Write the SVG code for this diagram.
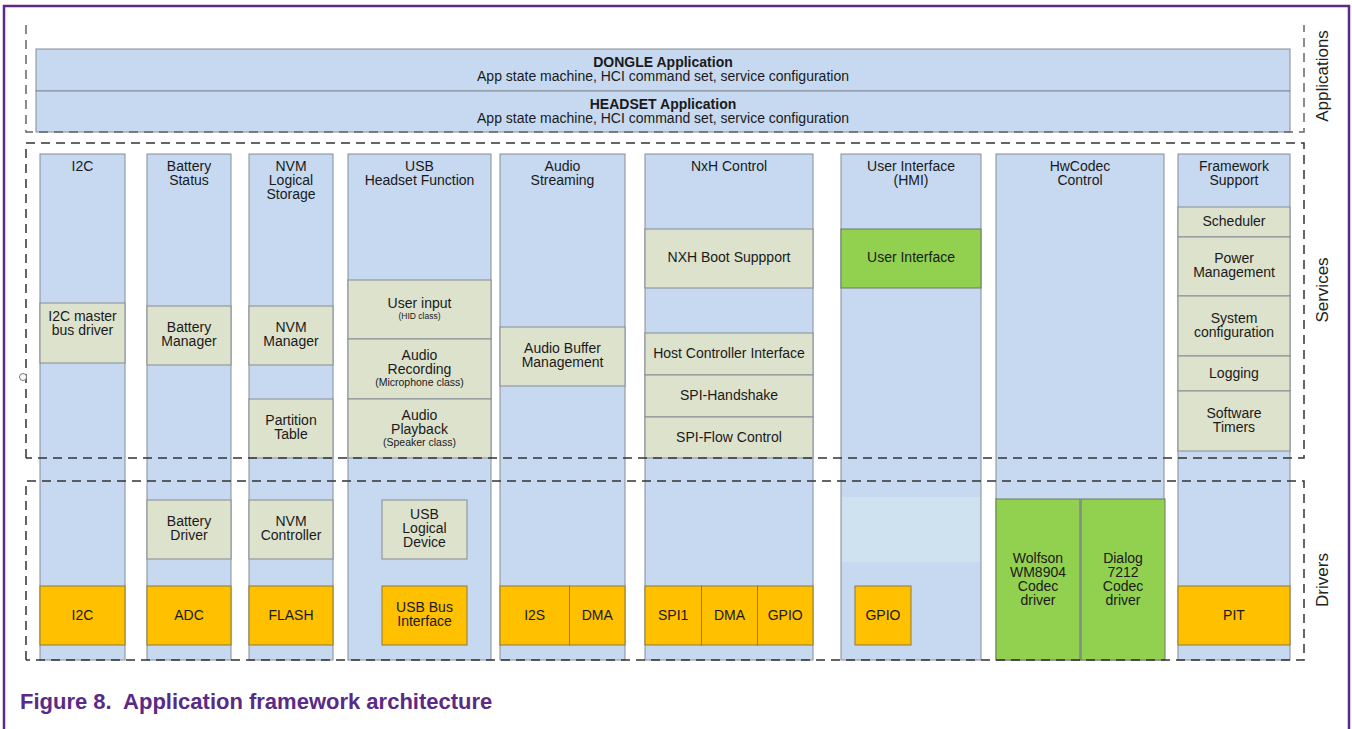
<svg xmlns="http://www.w3.org/2000/svg" width="1352" height="729" viewBox="0 0 1352 729">
<style>
text{font-family:"Liberation Sans",Arial,sans-serif;fill:#1a1a1a;font-size:14px;text-anchor:middle}
.col{fill:#c6d9f0;stroke:#858c94;stroke-width:1}
.sub{fill:#dde2cd;stroke:#858c94;stroke-width:1}
.hw{fill:#ffc000;stroke:#8a7a40;stroke-width:1}
.grn{fill:#92d050;stroke:#6b7b60;stroke-width:1}
.sm{font-size:10.5px}
.b{font-weight:bold}
.side{font-size:17px;fill:#222}
.dash{fill:none;stroke:#4a4a4a;stroke-width:1.5;stroke-dasharray:9 6}
.cap{font-size:22px;font-weight:bold;fill:#5a2a87;text-anchor:start}
</style>
<rect x="0" y="0" width="1352" height="729" fill="#fff"/>
<rect x="4" y="6" width="1345" height="740" fill="none" stroke="#5a2a87" stroke-width="2.5"/>

<g id="apps">
<g id="dongle"><rect class="col" x="36" y="49" width="1254" height="42"/>
<text class="b" x="663" y="67">DONGLE Application</text>
<text x="663" y="81">App state machine, HCI command set, service configuration</text></g>
<g id="headset"><rect class="col" x="36" y="91" width="1254" height="41"/>
<text class="b" x="663" y="109">HEADSET Application</text>
<text x="663" y="123">App state machine, HCI command set, service configuration</text></g>
</g>

<g id="col-i2c"><rect class="col" x="40" y="154" width="85" height="506"/>
<text x="82.5" y="171">I2C</text>
<rect class="sub" x="40" y="303" width="85" height="60"/>
<text x="82.5" y="321">I2C master</text><text x="82.5" y="335">bus driver</text>
<rect class="hw" x="40" y="586" width="85" height="59"/>
<text x="82.5" y="620">I2C</text></g>

<g id="col-battery"><rect class="col" x="147" y="154" width="84" height="506"/>
<text x="189" y="171">Battery</text><text x="189" y="185">Status</text>
<rect class="sub" x="147" y="306" width="84" height="59"/>
<text x="189" y="332">Battery</text><text x="189" y="346">Manager</text>
<rect class="sub" x="147" y="500" width="84" height="59"/>
<text x="189" y="526">Battery</text><text x="189" y="540">Driver</text>
<rect class="hw" x="147" y="586" width="84" height="59"/>
<text x="189" y="620">ADC</text></g>

<g id="col-nvm"><rect class="col" x="249" y="154" width="84" height="506"/>
<text x="291" y="171">NVM</text><text x="291" y="185">Logical</text><text x="291" y="199">Storage</text>
<rect class="sub" x="249" y="306" width="84" height="59"/>
<text x="291" y="332">NVM</text><text x="291" y="346">Manager</text>
<rect class="sub" x="249" y="399" width="84" height="59"/>
<text x="291" y="425">Partition</text><text x="291" y="439">Table</text>
<rect class="sub" x="249" y="500" width="84" height="59"/>
<text x="291" y="526">NVM</text><text x="291" y="540">Controller</text>
<rect class="hw" x="249" y="586" width="84" height="59"/>
<text x="291" y="620">FLASH</text></g>

<g id="col-usb"><rect class="col" x="348" y="154" width="143" height="506"/>
<text x="419.5" y="171">USB</text><text x="419.5" y="185">Headset Function</text>
<rect class="sub" x="348" y="280" width="143" height="59"/>
<text x="419.5" y="308">User input</text><text class="sm" x="419.5" y="319" style="font-size:8.5px">(HID class)</text>
<rect class="sub" x="348" y="339" width="143" height="60"/>
<text x="419.5" y="360">Audio</text><text x="419.5" y="374">Recording</text><text class="sm" x="419.5" y="386">(Microphone class)</text>
<rect class="sub" x="348" y="399" width="143" height="59"/>
<text x="419.5" y="420">Audio</text><text x="419.5" y="434">Playback</text><text class="sm" x="419.5" y="446">(Speaker class)</text>
<rect class="sub" x="382" y="500" width="85" height="59"/>
<text x="424.5" y="519">USB</text><text x="424.5" y="533">Logical</text><text x="424.5" y="547">Device</text>
<rect class="hw" x="382" y="586" width="85" height="59"/>
<text x="424.5" y="612">USB Bus</text><text x="424.5" y="626">Interface</text></g>

<g id="col-audio"><rect class="col" x="500" y="154" width="125" height="506"/>
<text x="562.5" y="171">Audio</text><text x="562.5" y="185">Streaming</text>
<rect class="sub" x="500" y="327" width="125" height="59"/>
<text x="562.5" y="353">Audio Buffer</text><text x="562.5" y="367">Management</text>
<rect class="hw" x="500" y="586" width="69.5" height="59"/>
<text x="534.7" y="620">I2S</text>
<rect class="hw" x="569.5" y="586" width="55.5" height="59"/>
<text x="597.2" y="620">DMA</text></g>

<g id="col-nxh"><rect class="col" x="645" y="154" width="168" height="506"/>
<text x="729" y="171">NxH Control</text>
<rect class="sub" x="645" y="229" width="168" height="59"/>
<text x="729" y="262">NXH Boot Suppport</text>
<rect class="sub" x="645" y="333" width="168" height="42"/>
<text x="729" y="358">Host Controller Interface</text>
<rect class="sub" x="645" y="375" width="168" height="42"/>
<text x="729" y="400">SPI-Handshake</text>
<rect class="sub" x="645" y="417" width="168" height="41"/>
<text x="729" y="442">SPI-Flow Control</text>
<rect class="hw" x="645" y="586" width="56.5" height="59"/>
<text x="673.2" y="620">SPI1</text>
<rect class="hw" x="701.5" y="586" width="56" height="59"/>
<text x="729.5" y="620">DMA</text>
<rect class="hw" x="757.5" y="586" width="55.5" height="59"/>
<text x="785.2" y="620">GPIO</text></g>

<g id="col-ui"><rect class="col" x="841" y="154" width="140" height="506"/>
<text x="911" y="171">User Interface</text><text x="911" y="185">(HMI)</text>
<rect class="grn" x="841" y="229" width="140" height="59"/>
<text x="911" y="262">User Interface</text>
<rect x="842" y="497" width="138" height="65" fill="#cfe2f0"/>
<rect class="hw" x="855" y="586" width="56" height="59"/>
<text x="883" y="620">GPIO</text></g>

<g id="col-hwcodec"><rect class="col" x="996" y="154" width="168" height="506"/>
<text x="1080" y="171">HwCodec</text><text x="1080" y="185">Control</text>
<rect class="grn" x="996" y="499" width="84" height="161"/>
<text x="1038" y="563">Wolfson</text><text x="1038" y="577">WM8904</text><text x="1038" y="591">Codec</text><text x="1038" y="605">driver</text>
<rect class="grn" x="1081" y="499" width="84" height="161"/>
<text x="1123" y="563">Dialog</text><text x="1123" y="577">7212</text><text x="1123" y="591">Codec</text><text x="1123" y="605">driver</text></g>

<g id="col-framework"><rect class="col" x="1178" y="154" width="112" height="506"/>
<text x="1234" y="171">Framework</text><text x="1234" y="185">Support</text>
<rect class="sub" x="1178" y="207" width="112" height="30"/>
<text x="1234" y="226">Scheduler</text>
<rect class="sub" x="1178" y="237" width="112" height="59"/>
<text x="1234" y="263">Power</text><text x="1234" y="277">Management</text>
<rect class="sub" x="1178" y="296" width="112" height="60"/>
<text x="1234" y="323">System</text><text x="1234" y="337">configuration</text>
<rect class="sub" x="1178" y="356" width="112" height="35"/>
<text x="1234" y="378">Logging</text>
<rect class="sub" x="1178" y="391" width="112" height="60"/>
<text x="1234" y="418">Software</text><text x="1234" y="432">Timers</text>
<rect class="hw" x="1178" y="586" width="112" height="59"/>
<text x="1234" y="620">PIT</text></g>

<g id="layers">
<path class="dash" d="M26 25 V132 H1304 V25" style="stroke:#666"/>
<path class="dash" d="M26 458 V143 H1304 V458 H26" style="stroke:#333"/>
<path class="dash" d="M26 660 V481 H1304 V660 H26" style="stroke:#333"/>
<circle cx="23" cy="377" r="3.5" fill="#fff" stroke="#777" stroke-width="1"/>
</g>

<g id="labels">
<text class="side" transform="translate(1328 76) rotate(-90)">Applications</text>
<text class="side" transform="translate(1328 290) rotate(-90)">Services</text>
<text class="side" transform="translate(1328 580) rotate(-90)">Drivers</text>
</g>

<text class="cap" x="20" y="709">Figure 8.&#160; Application framework architecture</text>
</svg>
